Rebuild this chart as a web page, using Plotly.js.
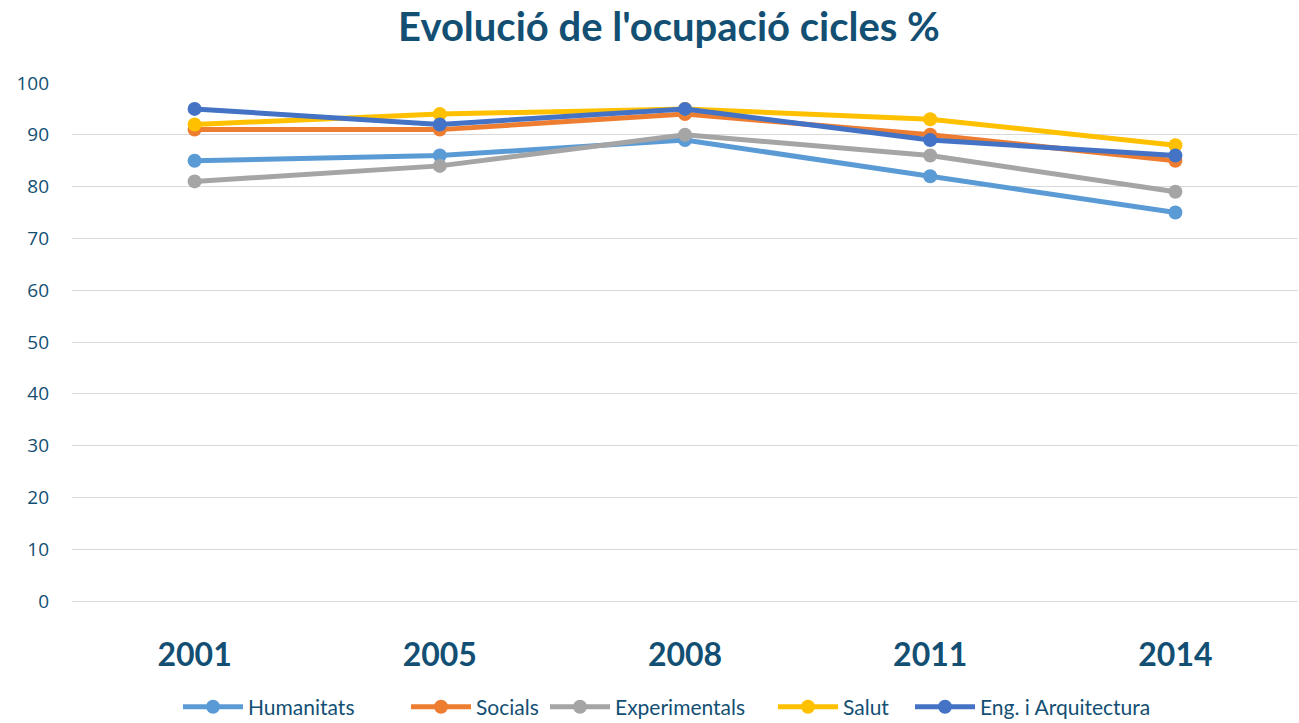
<!DOCTYPE html>
<html>
<head>
<meta charset="utf-8">
<script src="https://cdn.plot.ly/plotly-3.0.1.min.js"></script>
<style>html,body{margin:0;padding:0;background:#fff;}#chart{width:1299px;height:723px;}</style>
</head>
<body>
<div id="chart"></div>
<script>
const years = ["2001", "2005", "2008", "2011", "2014"];
const humanitats = [85, 86, 89, 82, 75];
const socials = [91, 91, 94, 90, 85];
const experimentals = [81, 84, 90, 86, 79];
const salut = [92, 94, 95, 93, 88];
const enginyeria = [95, 92, 95, 89, 86];
const seriesNames = ["Humanitats", "Socials", "Experimentals", "Salut", "Eng. i Arquitectura"];
const seriesValues = [humanitats, socials, experimentals, salut, enginyeria];
const colors = ["#5B9BD5", "#ED7D31", "#A5A5A5", "#FFC000", "#4472C4"];
const legendStarts = [183, 411, 550, 778, 915];

const legendIds = ["legend", "legend2", "legend3", "legend4", "legend5"];
const traces = seriesValues.map((vals, i) => ({
  type: "scatter",
  mode: "lines+markers",
  name: seriesNames[i],
  x: years,
  y: vals,
  legend: legendIds[i],
  line: {color: colors[i], width: 5},
  marker: {color: colors[i], size: 14}
}));

const txt = "#134F73";
const layout = {
  width: 1299, height: 723,
  paper_bgcolor: "#fff", plot_bgcolor: "#fff",
  margin: {l: 72, r: 1, t: 83, b: 122},
  title: {text: "<b>Evolució de l'ocupació cicles %</b>", x: 0.515, xanchor: "center", y: 0.962, yanchor: "middle",
          font: {family: "Lato, 'Open Sans', sans-serif", size: 40, color: txt}},
  xaxis: {type: "category", range: [-0.5, 4.5], showgrid: false, zeroline: false, showline: false,
          automargin: false,
          ticks: "", tickfont: {family: "Lato, sans-serif", size: 32, color: txt, weight: "bold"},
          ticklabelstandoff: 32},
  yaxis: {range: [0, 100], dtick: 10, showgrid: true, gridcolor: "#D9D9D9", gridwidth: 1.3,
          zeroline: true, zerolinecolor: "#D9D9D9", zerolinewidth: 1.3, automargin: false,
          showline: false, ticks: "", tickfont: {family: "'Open Sans', sans-serif", size: 19, color: txt},
          ticklabelstandoff: 22},
  showlegend: true
};
legendIds.forEach((id, i) => {
  layout[id] = {orientation: "h", xref: "container", x: (legendStarts[i] - 5) / 1299, xanchor: "left",
                yref: "container", y: 0.022, yanchor: "middle",
                font: {family: "Lato, 'Open Sans', sans-serif", size: 21, color: txt}, itemwidth: 60,
                bgcolor: "rgba(0,0,0,0)"};
});
Plotly.newPlot("chart", traces, layout, {displayModeBar: false});
</script>
</body>
</html>
